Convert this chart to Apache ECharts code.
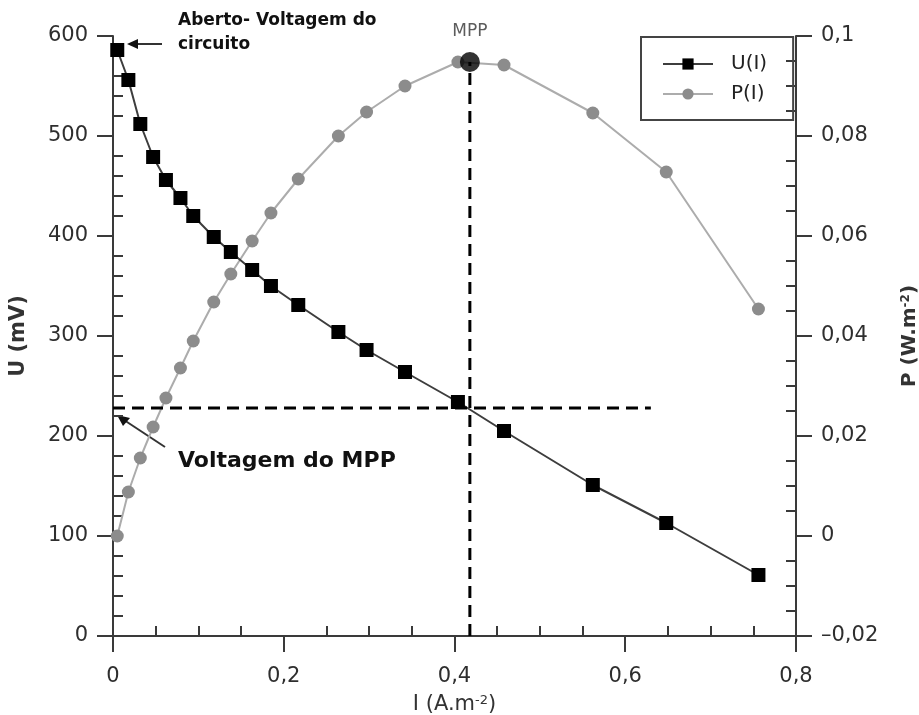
<!DOCTYPE html>
<html>
<head>
<meta charset="utf-8">
<title>U(I) e P(I)</title>
<script src="https://cdn.jsdelivr.net/npm/echarts@6/dist/echarts.min.js"></script>
<style>
  html, body { margin: 0; padding: 0; background: #fff; }
  #main { width: 919px; height: 715px; }
</style>
</head>
<body>
<div id="main"></div>
<script>
// corrente I (A.m-2), comum as duas curvas
var correnteI = [0.005, 0.018, 0.032, 0.047, 0.062, 0.079, 0.094, 0.118, 0.138, 0.163,
                 0.185, 0.217, 0.264, 0.297, 0.342, 0.404, 0.458, 0.562, 0.648, 0.756];
// tensao U (mV)
var tensaoU = [586, 556, 512, 479, 456, 438, 420, 399, 384, 366,
               350, 331, 304, 286, 264, 234, 205, 151, 113, 61];
// potencia P (W.m-2)
var potenciaP = [0.000, 0.0088, 0.0156, 0.0218, 0.0276, 0.0336, 0.039, 0.0468, 0.0524, 0.059,
                 0.0646, 0.0714, 0.080, 0.0848, 0.090, 0.0948, 0.0942, 0.0846, 0.0728, 0.0454];
// ponto de maxima potencia
var mppI = 0.418;
var mppU = 228;
var mppP = 0.0948;
var mppLinhaFimI = 0.63;
// eixos [min, max, intervalo]
var eixoI = [0, 0.8, 0.2];
var eixoU = [0, 600, 100];
var eixoP = [-0.02, 0.1, 0.02];

var myChart = echarts.init(document.getElementById('main'));

function virgula(v) {
    var s = String(+v.toFixed(3)).replace('.', ',');
    return s.replace('-', '\u2013');
}

var dadosU = correnteI.map(function (x, i) { return [x, tensaoU[i]]; });
var dadosP = correnteI.map(function (x, i) { return [x, potenciaP[i]]; });

var corEixo = '#3a3a3a';
var corTexto = '#2e2e2e';
var fonte = '"DejaVu Sans", sans-serif';

function eixoY(r, nome, gap, fmt, minor) {
    return {
        type: 'value',
        min: r[0], max: r[1], interval: r[2],
        name: nome,
        nameLocation: 'middle',
        nameGap: gap,
        nameTextStyle: { fontFamily: fonte, fontSize: 21, fontWeight: 'bold', color: '#333' },
        axisLine: { show: true, onZero: false, lineStyle: { color: corEixo, width: 2 } },
        axisTick: { show: true, inside: false, length: 16, lineStyle: { color: corEixo, width: 2 } },
        minorTick: { show: true, splitNumber: minor, length: -10, lineStyle: { color: corEixo, width: 2 } },
        splitLine: { show: false },
        axisLabel: { fontFamily: fonte, fontSize: 21, color: corTexto, margin: 25, formatter: fmt }
    };
}

var option = {
    animation: false,
    backgroundColor: '#fff',
    grid: { left: 113, right: 123, top: 36, bottom: 79, containLabel: false, outerBoundsMode: 'none' },
    legend: {
        data: ['U(I)', 'P(I)'],
        orient: 'vertical',
        left: 641,
        top: 37,
        padding: [17, 26, 16, 21],
        itemWidth: 50,
        itemHeight: 14,
        itemGap: 10,
        borderColor: '#444',
        borderWidth: 2,
        borderRadius: 0,
        textStyle: { fontFamily: fonte, fontSize: 20, color: '#222', padding: [0, 0, 0, 13] }
    },
    xAxis: {
        type: 'value',
        min: eixoI[0], max: eixoI[1], interval: eixoI[2],
        name: '{a|I (A.m}{s|-2}{a|)}',
        nameLocation: 'middle',
        nameGap: 58,
        nameTextStyle: {
            rich: {
                a: { fontFamily: fonte, fontSize: 21, color: '#333' },
                s: { fontFamily: fonte, fontSize: 13, color: '#333', verticalAlign: 'top', padding: [0, 0, 9, 0] }
            }
        },
        axisLine: { show: true, onZero: false, lineStyle: { color: corEixo, width: 2 } },
        axisTick: { show: true, inside: false, length: 16, lineStyle: { color: corEixo, width: 2 } },
        minorTick: { show: true, splitNumber: 4, length: -10, lineStyle: { color: corEixo, width: 2 } },
        splitLine: { show: false },
        axisLabel: { fontFamily: fonte, fontSize: 21, color: corTexto, margin: 30, formatter: virgula }
    },
    yAxis: [
        eixoY(eixoU, 'U (mV)', 84, function (v) { return String(v); }, 5),
        eixoY(eixoP, '{a|P (W.m}{s|-2}{a|)}', 104, virgula, 4)
    ],
    series: [
        {
            name: 'P(I)',
            type: 'line',
            yAxisIndex: 1,
            data: dadosP,
            symbol: 'circle',
            symbolSize: 13,
            itemStyle: { color: '#8c8c8c' },
            lineStyle: { color: '#acacac', width: 2 },
            z: 3
        },
        {
            name: 'U(I)',
            type: 'line',
            data: dadosU,
            symbol: 'rect',
            symbolSize: 14,
            itemStyle: { color: '#000' },
            lineStyle: { color: '#3d3d3d', width: 2 },
            z: 4
        },
        {
            name: 'mppH',
            type: 'line',
            data: [[0, mppU], [mppLinhaFimI, mppU]],
            symbol: 'none',
            lineStyle: { color: '#000', width: 3, type: [12, 7] },
            z: 5
        },
        {
            name: 'mppV',
            type: 'line',
            yAxisIndex: 1,
            data: [[mppI, eixoP[0]], [mppI, mppP]],
            symbol: 'none',
            lineStyle: { color: '#000', width: 3, type: [12, 7] },
            z: 5
        },
        {
            name: 'MPP',
            type: 'scatter',
            yAxisIndex: 1,
            data: [[mppI, mppP]],
            symbol: 'circle',
            symbolSize: 20,
            itemStyle: { color: '#000' },
            label: {
                show: true, position: 'top', distance: 12,
                formatter: 'MPP',
                fontFamily: fonte, fontSize: 17, color: '#333'
            },
            z: 6
        }
    ],
    graphic: [
        {
            type: 'text', left: 178, top: 9,
            style: {
                text: 'Aberto- Voltagem do\ncircuito',
                font: 'bold 17px "DejaVu Sans"',
                lineHeight: 24,
                fill: '#111'
            }
        },
        {
            type: 'line',
            shape: { x1: 137, y1: 44, x2: 162, y2: 44 },
            style: { stroke: '#333', lineWidth: 2 }
        },
        {
            type: 'polygon',
            shape: { points: [[127, 44], [138, 39], [138, 49]] },
            style: { fill: '#111' }
        },
        {
            type: 'text', left: 178, top: 450,
            style: {
                text: 'Voltagem do MPP',
                font: 'bold 22px "DejaVu Sans"',
                fill: '#111'
            }
        },
        {
            type: 'line',
            shape: { x1: 165, y1: 447, x2: 124, y2: 420 },
            style: { stroke: '#333', lineWidth: 2 }
        },
        {
            type: 'polygon',
            shape: { points: [[117, 415], [130, 418], [123, 426]] },
            style: { fill: '#111' }
        }
    ]
};

// eixo P com nome em texto rico
option.yAxis[1].nameTextStyle = {
    rich: {
        a: { fontFamily: fonte, fontSize: 20, fontWeight: 'bold', color: '#333' },
        s: { fontFamily: fonte, fontSize: 12, fontWeight: 'bold', color: '#333', verticalAlign: 'top', padding: [0, 0, 8, 0] }
    }
};

myChart.setOption(option);
</script>
</body>
</html>
